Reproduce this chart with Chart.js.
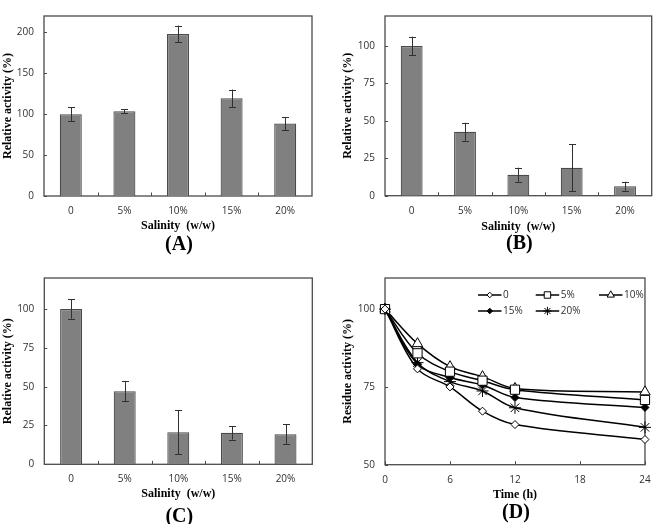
<!DOCTYPE html>
<html><head><meta charset="utf-8">
<script src="https://cdn.jsdelivr.net/npm/chart.js@4.4.1/dist/chart.umd.min.js"></script>
<style>
html,body{margin:0;padding:0;background:#fff;}
#wrap{position:relative;width:660px;height:524px;background:#fff;overflow:hidden;}
.panel{position:absolute;width:330px;height:262px;}
canvas{display:block;}
</style></head><body>
<div id="wrap">
<div class="panel" style="left:0;top:0"><canvas id="cA" width="330" height="262" style="width:330px;height:262px"></canvas></div>
<div class="panel" style="left:330px;top:0"><canvas id="cB" width="330" height="262" style="width:330px;height:262px"></canvas></div>
<div class="panel" style="left:0;top:262px"><canvas id="cC" width="330" height="262" style="width:330px;height:262px"></canvas></div>
<div class="panel" style="left:330px;top:262px"><canvas id="cD" width="330" height="262" style="width:330px;height:262px"></canvas></div>
</div>
<script>
// ---- data ----
const salinityLabels = ['0', '5%', '10%', '15%', '20%'];
const activityA = [100, 103.5, 198, 119.5, 88.5];
const errorA    = [8.4, 2.3, 10.3, 10.6, 7.8];
const activityB = [100, 42.7, 14, 18.6, 6.3];
const errorB    = [6.2, 6, 4.7, 15.6, 3];
const activityC = [100, 47.1, 20.7, 20.3, 19.4];
const errorC    = [6.2, 6.6, 14.2, 4.4, 6.3];
const timeHours   = [0, 3, 6, 9, 12, 24];
const seriesNames = ['0', '5%', '10%', '15%', '20%'];
const residue0  = [100, 80.8, 75.0, 67.2, 62.9, 58.1];
const residue5  = [100, 85.8, 79.9, 77.0, 74.1, 70.8];
const residue10 = [100, 88.9, 81.5, 78.3, 74.5, 73.4];
const residue15 = [100, 82.3, 78.0, 75.6, 71.6, 68.4];
const residue20 = [100, 82.8, 76.7, 73.7, 68.3, 62.0];

// ---- styles ----
const TICK_FONT = {family: "'Open Sans', 'Liberation Sans', sans-serif", size: 10};
const TITLE_FONT = {family: "'Liberation Serif', 'Times New Roman', serif", size: 12, weight: 'bold', lineHeight: 1.2};
const FRAME_COLOR = '#4a4a4a';
const TEXT_COLOR = '#303030';

const framePlugin = {
  id: 'frame',
  beforeDatasetsDraw(chart) {
    const {ctx, chartArea: a} = chart;
    const xs = chart.scales.x, ys = chart.scales.y;
    ctx.save();
    ctx.strokeStyle = FRAME_COLOR;
    ctx.lineWidth = 1.3;
    ctx.strokeRect(a.left, a.top, a.right - a.left, a.bottom - a.top);
    ctx.lineWidth = 1;
    ctx.beginPath();
    ys.ticks.forEach(t => {
      const py = Math.round(ys.getPixelForValue(t.value)) + 0.5;
      ctx.moveTo(a.left, py); ctx.lineTo(a.left + 3, py);
    });
    if (xs.type === 'category') {
      for (let i = 0; i < xs.ticks.length - 1; i++) {
        const px = Math.round((xs.getPixelForTick(i) + xs.getPixelForTick(i + 1)) / 2) + 0.5;
        ctx.moveTo(px, a.bottom); ctx.lineTo(px, a.bottom - 3.5);
      }
    } else {
      xs.ticks.forEach(t => {
        const px = Math.round(xs.getPixelForValue(t.value)) + 0.5;
        ctx.moveTo(px, a.bottom); ctx.lineTo(px, a.bottom - 3.5);
      });
    }
    ctx.stroke();
    ctx.restore();
  },
  afterDraw(chart, args, opts) {
    if (!opts.label) return;
    const {ctx, chartArea: a} = chart;
    ctx.save();
    ctx.font = "bold 20px 'Liberation Serif', 'Times New Roman', serif";
    ctx.fillStyle = '#000';
    ctx.textAlign = 'center';
    ctx.textBaseline = 'middle';
    ctx.fillText(opts.label, (a.left + a.right) / 2 + 1, opts.labelY);
    ctx.restore();
  }
};

const errorBarPlugin = {
  id: 'errorBars',
  afterDatasetsDraw(chart, args, opts) {
    if (!opts.errors) return;
    const {ctx} = chart;
    const ys = chart.scales.y;
    const values = chart.data.datasets[0].data;
    const meta = chart.getDatasetMeta(0);
    ctx.save();
    ctx.strokeStyle = '#303030';
    ctx.lineWidth = 1;
    meta.data.forEach((bar, i) => {
      const v = values[i], e = opts.errors[i];
      const yt = ys.getPixelForValue(v + e), yb = ys.getPixelForValue(Math.max(0, v - e));
      const x = Math.round(bar.x) + 0.5;
      ctx.beginPath();
      ctx.moveTo(x, yt); ctx.lineTo(x, yb);
      ctx.moveTo(x - 3.5, Math.round(yt) + 0.5); ctx.lineTo(x + 3.5, Math.round(yt) + 0.5);
      ctx.moveTo(x - 3.5, Math.round(yb) + 0.5); ctx.lineTo(x + 3.5, Math.round(yb) + 0.5);
      ctx.stroke();
    });
    ctx.restore();
  }
};

const lineLegendPlugin = {
  id: 'lineLegend',
  afterDraw(chart, args, opts) {
    if (!opts.columns) return;
    const {ctx, chartArea: a} = chart;
    ctx.save();
    chart.data.datasets.forEach((ds, i) => {
      const n = opts.columns.length;
      const col = i % n, row = Math.floor(i / n);
      const x0 = a.left + opts.columns[col];
      const y0 = a.top + opts.rows[row];
      ctx.strokeStyle = ds.borderColor;
      ctx.lineWidth = ds.borderWidth;
      ctx.beginPath();
      ctx.moveTo(x0, y0); ctx.lineTo(x0 + opts.lineLength, y0);
      ctx.stroke();
      ctx.fillStyle = ds.pointBackgroundColor;
      ctx.strokeStyle = ds.pointBorderColor;
      ctx.lineWidth = 1;
      Chart.helpers.drawPoint(ctx, {pointStyle: ds.pointStyle, radius: ds.pointRadius * 0.7, borderWidth: 1, rotation: 0}, x0 + opts.lineLength / 2, y0);
      ctx.fillStyle = TEXT_COLOR;
      ctx.font = "10px 'Open Sans', 'Liberation Sans', sans-serif";
      ctx.textAlign = 'left';
      ctx.textBaseline = 'middle';
      ctx.fillText(ds.label, x0 + opts.lineLength + 1.5, y0);
    });
    ctx.restore();
  }
};

function fixedWidth(w) { return s => { s.width = w; }; }
function fixedHeight(h) { return s => { s.height = h; }; }

function barPanel(id, values, errors, yMax, yStep, label, g) {
  return new Chart(document.getElementById(id), {
    type: 'bar',
    data: {
      labels: salinityLabels,
      datasets: [{
        data: values,
        backgroundColor: '#808080',
        borderColor: '#4a4a4a',
        borderWidth: 1.2,
        barPercentage: 0.41,
        categoryPercentage: 1.0
      }]
    },
    options: {
      responsive: false,
      animation: false,
      devicePixelRatio: 1,
      layout: {padding: {left: 0, top: g.top, right: g.right, bottom: 0}},
      plugins: {
        legend: {display: false},
        tooltip: {enabled: false},
        errorBars: {errors: errors},
        frame: {label: label, labelY: g.labelY}
      },
      scales: {
        x: {
          grid: {display: false, drawTicks: false},
          border: {display: false},
          ticks: {font: TICK_FONT, color: TEXT_COLOR, padding: g.xTickPad},
          title: {display: true, text: 'Salinity  (w/w)', font: TITLE_FONT, color: '#000', padding: {top: 0, bottom: g.xTitlePad}},
          afterFit: fixedHeight(g.xHeight)
        },
        y: {
          min: 0, max: yMax,
          grid: {display: false, drawTicks: false},
          border: {display: false},
          ticks: {stepSize: yStep, includeBounds: false, font: TICK_FONT, color: TEXT_COLOR, padding: 10},
          title: {display: true, text: 'Relative activity (%)', font: TITLE_FONT, color: '#000', padding: {top: g.yTitlePad, bottom: 0}},
          afterFit: fixedWidth(g.yWidth)
        }
      }
    },
    plugins: [framePlugin, errorBarPlugin]
  });
}

barPanel('cA', activityA, errorA, 220, 50, '(A)',
  {top: 3, right: 18, yWidth: 44, xHeight: 66, xTickPad: 9, xTitlePad: 28.5, yTitlePad: 0.3, labelY: 245});
barPanel('cB', activityB, errorB, 120, 25, '(B)',
  {top: 3.3, right: 8.3, yWidth: 55, xHeight: 66.3, xTickPad: 9, xTitlePad: 28.3, yTitlePad: 10.8, labelY: 244});
barPanel('cC', activityC, errorC, 120, 25, '(C)',
  {top: 10.3, right: 17.7, yWidth: 44.3, xHeight: 59.7, xTickPad: 9, xTitlePad: 22.5, yTitlePad: 0.6, labelY: 255});

const residueSeries = [residue0, residue5, residue10, residue15, residue20];
const markerStyles = [
  {pointStyle: 'rectRot', pointRadius: 4, pointBackgroundColor: '#fff'},
  {pointStyle: 'rect', pointRadius: 6.5, pointBackgroundColor: '#fff'},
  {pointStyle: 'triangle', pointRadius: 6, pointBackgroundColor: '#fff'},
  {pointStyle: 'rectRot', pointRadius: 4, pointBackgroundColor: '#000'},
  {pointStyle: 'star', pointRadius: 6, pointBackgroundColor: '#000'}
];

new Chart(document.getElementById('cD'), {
  type: 'line',
  data: {
    datasets: residueSeries.map((vals, i) => Object.assign({
      label: seriesNames[i],
      data: timeHours.map((t, k) => ({x: t, y: vals[k]})),
      borderColor: '#000',
      borderWidth: 1.5,
      pointBorderColor: '#000',
      pointBorderWidth: 1,
      fill: false,
      tension: 0.35
    }, markerStyles[i]))
  },
  options: {
    responsive: false,
    animation: false,
    devicePixelRatio: 1,
    clip: false,
    layout: {padding: {left: 0, top: 10.3, right: 8.3, bottom: 0}},
    plugins: {
      legend: {display: false},
      tooltip: {enabled: false},
      frame: {label: '(D)', labelY: 250.5},
      lineLegend: {columns: [93, 150.7, 214], rows: [17, 33], lineLength: 23.5}
    },
    scales: {
      x: {
        type: 'linear', min: 0, max: 24,
        grid: {display: false, drawTicks: false},
        border: {display: false},
        ticks: {stepSize: 6, font: TICK_FONT, color: TEXT_COLOR, padding: 9.3},
        title: {display: true, text: 'Time (h)', font: TITLE_FONT, color: '#000', padding: {top: 0, bottom: 21.8}},
        afterFit: fixedHeight(59.3)
      },
      y: {
        min: 50, max: 110,
        grid: {display: false, drawTicks: false},
        border: {display: false},
        ticks: {stepSize: 25, includeBounds: false, font: TICK_FONT, color: TEXT_COLOR, padding: 10},
        title: {display: true, text: 'Residue activity (%)', font: TITLE_FONT, color: '#000', padding: {top: 10.8, bottom: 0}},
        afterFit: fixedWidth(55)
      }
    }
  },
  plugins: [framePlugin, lineLegendPlugin]
});
</script>
</body></html>
